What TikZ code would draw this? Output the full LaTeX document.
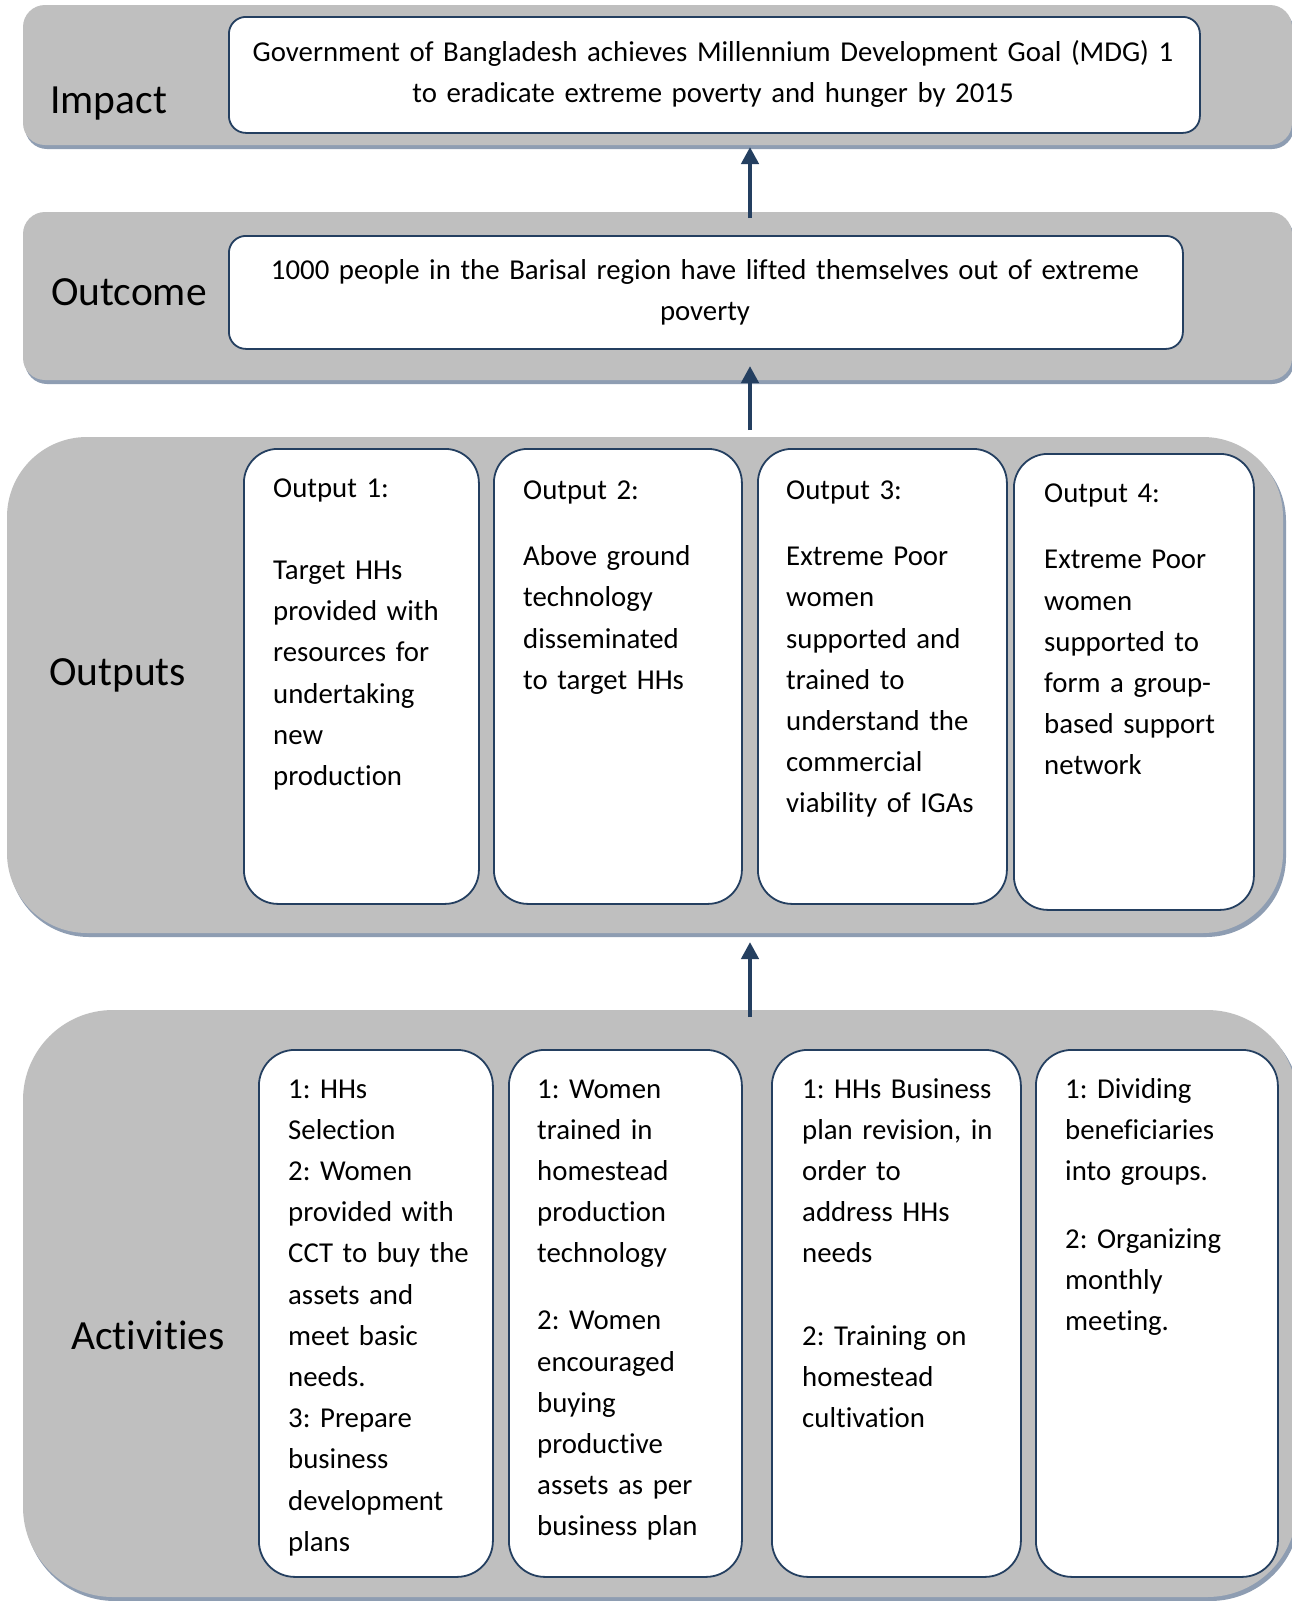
\documentclass[tikz,border=0pt]{standalone}
\usepackage{fontspec}
\setmainfont{Carlito}[Ligatures=NoCommon]
\frenchspacing
\usetikzlibrary{arrows.meta}
\definecolor{bandc}{HTML}{BFBFBF}
\definecolor{shadc}{HTML}{8E9DB2}
\definecolor{navy}{HTML}{243F60}
\tikzset{
  bandfill/.style={fill=bandc},
  shadfill/.style={fill=shadc},
  wbox/.style={draw=navy, line width=1.8pt, fill=white, rectangle, anchor=north west, inner sep=0pt},
  lbl/.style={font=\fontsize{41.5}{50}\selectfont, anchor=base west, inner sep=0pt},
  txt/.style={font=\fontsize{28.8}{41.2}\selectfont, text width=300pt, align=left, anchor=base west, inner sep=0pt},
  ctxt/.style={font=\fontsize{28.8}{41.2}\selectfont, text width=1000pt, align=center, anchor=base, inner sep=0pt},
  arr/.style={draw=navy, line width=4.5pt, -{Triangle[width=17pt,length=17pt]}},
}
\begin{document}
\begin{tikzpicture}[x=1pt,y=-1pt]
\clip (0,0) rectangle (1292,1601);
\fill[white] (0,0) rectangle (1292,1601);
% bands
\path[shadfill, rounded corners=22pt] (25,9) rectangle (1294,149);
\path[bandfill, rounded corners=22pt] (23,5) rectangle (1292,145);
\path[shadfill, rounded corners=22pt] (25,216) rectangle (1294,384);
\path[bandfill, rounded corners=22pt] (23,212) rectangle (1292,380);
\path[shadfill, rounded corners=80pt] (9,441) rectangle (1286,937);
\path[bandfill, rounded corners=80pt] (7,437) rectangle (1283,933);
\path[shadfill, rounded corners=90pt] (25,1014) rectangle (1300,1601);
\path[bandfill, rounded corners=90pt] (23,1010) rectangle (1297,1597);
% labels
\node[lbl] (limpact) at (50,113) {Impact};
\node[lbl] (loutcome) at (51,305) {Outcome};
\node[lbl] (loutputs) at (49,685) {Outputs};
\node[lbl] (lactivities) at (71,1349) {Activities};
% impact / outcome boxes
\node[wbox, rounded corners=17pt, minimum width=971pt, minimum height=116pt] (impact) at (228,16) {};
\node[ctxt] (timpact) at (713,61) {Government of Bangladesh achieves Millennium Development Goal (MDG) 1\\to eradicate extreme poverty and hunger by 2015};
\node[wbox, rounded corners=17pt, minimum width=954pt, minimum height=113pt] (outcome) at (228,235) {};
\node[ctxt] (toutcome) at (705,279) {1000 people in the Barisal region have lifted themselves out of extreme\\poverty};
% output boxes
\node[wbox, rounded corners=34pt, minimum width=235pt, minimum height=455pt] (o1) at (243,448) {};
\node[wbox, rounded corners=34pt, minimum width=248pt, minimum height=455pt] (o2) at (493,448) {};
\node[wbox, rounded corners=34pt, minimum width=249pt, minimum height=455pt] (o3) at (757,448) {};
\node[wbox, rounded corners=34pt, minimum width=240pt, minimum height=456pt] (o4) at (1013,453) {};
\node[txt] (to1) at (273,497) {Output 1:\\[41.2pt]Target HHs\\provided with\\resources for\\undertaking\\new\\production};
\node[txt] (to2) at (523,499) {Output 2:\\[25.4pt]Above ground\\technology\\disseminated\\to target HHs};
\node[txt] (to3) at (786,499) {Output 3:\\[25.4pt]Extreme Poor\\women\\supported and\\trained to\\understand the\\commercial\\viability of IGAs};
\node[txt] (to4) at (1044,502) {Output 4:\\[25.6pt]Extreme Poor\\women\\supported to\\form a group-\\based support\\network};
% activity boxes
\node[wbox, rounded corners=36pt, minimum width=234pt, minimum height=527pt] (a1) at (258,1049) {};
\node[wbox, rounded corners=36pt, minimum width=233pt, minimum height=527pt] (a2) at (508,1049) {};
\node[wbox, rounded corners=36pt, minimum width=249pt, minimum height=527pt] (a3) at (771,1049) {};
\node[wbox, rounded corners=36pt, minimum width=242pt, minimum height=527pt] (a4) at (1035,1049) {};
\node[txt] (ta1) at (288,1098) {1: HHs\\Selection\\2: Women\\provided with\\CCT to buy the\\assets and\\meet basic\\needs.\\3: Prepare\\business\\development\\plans};
\node[txt] (ta2) at (537,1098) {1: Women\\trained in\\homestead\\production\\technology\\[25.8pt]2: Women\\encouraged\\buying\\productive\\assets as per\\business plan};
\node[txt] (ta3) at (802,1098) {1: HHs Business\\plan revision, in\\order to\\address HHs\\needs\\[41.2pt]2: Training on\\homestead\\cultivation};
\node[txt] (ta4) at (1065,1098) {1: Dividing\\beneficiaries\\into groups.\\[26.5pt]2: Organizing\\monthly\\meeting.};
% arrows
\coordinate (ar1s) at (750,218);
\coordinate (ar1e) at (750,147);
\coordinate (ar2s) at (750,430);
\coordinate (ar2e) at (750,366);
\coordinate (ar3s) at (750,1017);
\coordinate (ar3e) at (750,942);
\draw[arr] (ar1s) -- (ar1e);
\draw[arr] (ar2s) -- (ar2e);
\draw[arr] (ar3s) -- (ar3e);
\end{tikzpicture}
\end{document}
